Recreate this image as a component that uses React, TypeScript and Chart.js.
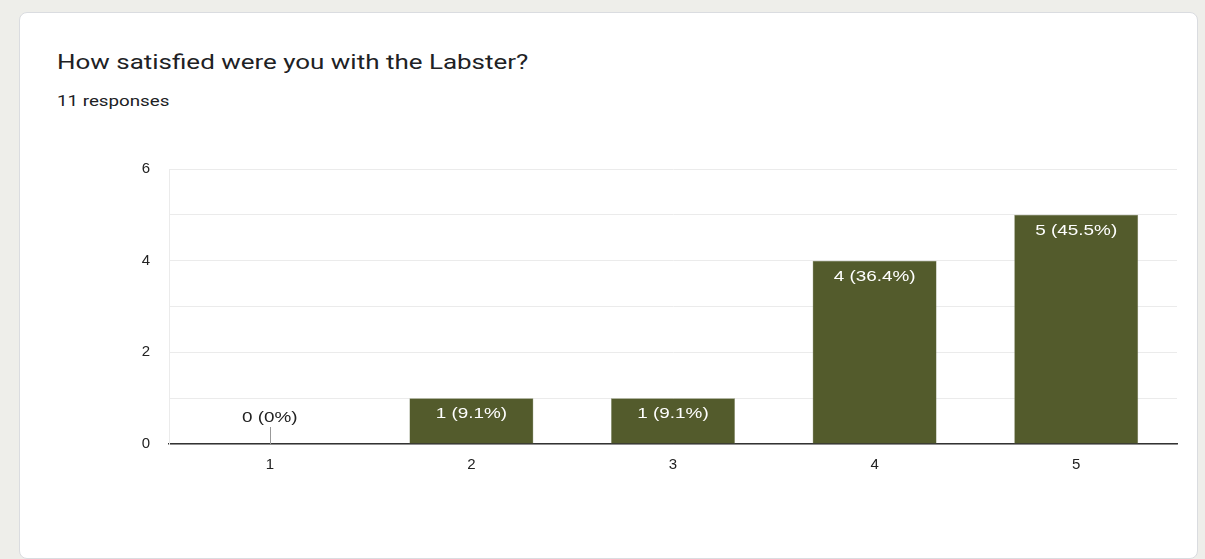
import React, { useEffect, useRef } from "react";
import { Chart, registerables } from "chart.js";

Chart.register(...registerables);

const TITLE = "How satisfied were you with the Labster?";
const SUBTITLE = "11 responses";
const categories = ["1", "2", "3", "4", "5"];
const counts = [0, 1, 1, 4, 5];
const totalResponses = 11;
const yTickLabels = [0, 2, 4, 6];

const BAR_COLOR = "#535b2c";
const AXIS_FONT = "'Liberation Sans', Arial, sans-serif";
const STRETCH = 1.26;

function pctLabel(v: number) {
  const p = (v / totalResponses) * 100;
  const s = p.toFixed(1).replace(/\.0$/, "");
  return `${v} (${s}%)`;
}

function stretchedText(ctx: CanvasRenderingContext2D, text: string, x: number, y: number) {
  ctx.save();
  ctx.translate(x, y);
  ctx.scale(STRETCH, 1);
  ctx.fillText(text, 0, 0);
  ctx.restore();
}

const valueLabelPlugin = {
  id: "valueLabels",
  afterDatasetsDraw(chart: any) {
    const ctx = chart.ctx;
    const meta = chart.getDatasetMeta(0);
    const yScale = chart.scales.y;
    ctx.save();
    ctx.font = `15px ${AXIS_FONT}`;
    ctx.textAlign = "center";
    ctx.textBaseline = "middle";
    meta.data.forEach((bar: any, i: number) => {
      const v = counts[i];
      const text = pctLabel(v);
      if (v > 0) {
        ctx.fillStyle = "#ffffff";
        stretchedText(ctx, text, bar.x, bar.y + 16);
      } else {
        const base = yScale.getPixelForValue(0);
        ctx.strokeStyle = "#999999";
        ctx.lineWidth = 1;
        ctx.beginPath();
        ctx.moveTo(Math.round(bar.x) + 0.5, base);
        ctx.lineTo(Math.round(bar.x) + 0.5, base - 17);
        ctx.stroke();
        ctx.fillStyle = "#222222";
        stretchedText(ctx, text, bar.x, base - 26);
      }
    });
    ctx.restore();
  },
};

export default function App() {
  const canvasRef = useRef<HTMLCanvasElement | null>(null);

  useEffect(() => {
    if (!canvasRef.current) return;
    const chart = new Chart(canvasRef.current, {
      type: "bar",
      data: {
        labels: categories,
        datasets: [
          {
            data: counts,
            backgroundColor: BAR_COLOR,
            borderColor: "#8a9070",
            borderWidth: 0.5,
            categoryPercentage: 1,
            barPercentage: 0.615,
          },
        ],
      },
      options: {
        animation: false,
        responsive: false,
        maintainAspectRatio: false,
        events: [],
        layout: { padding: { left: 0, right: 28, top: 169, bottom: 85 } },
        plugins: {
          legend: { display: false },
          tooltip: { enabled: false },
        },
        scales: {
          x: {
            grid: { display: false, drawTicks: false },
            border: { color: "#333333", width: 1.5 },
            ticks: {
              color: "#222222",
              font: { family: AXIS_FONT, size: 15 },
              padding: 12,
            },
            afterFit: (s: any) => {
              s.height = 30;
            },
          },
          y: {
            min: 0,
            max: 6,
            grid: { color: "#ebebeb", drawTicks: false, lineWidth: 1 },
            border: { color: "#ebebeb", width: 1 },
            ticks: {
              stepSize: 1,
              color: "#222222",
              font: { family: AXIS_FONT, size: 15 },
              padding: 19,
              callback: (v: any) => (yTickLabels.includes(Number(v)) ? String(v) : ""),
            },
            afterFit: (s: any) => {
              s.width = 169;
            },
          },
        },
      },
      plugins: [valueLabelPlugin],
    });
    return () => chart.destroy();
  }, []);

  return (
    <div
      style={{
        position: "fixed",
        left: 0,
        top: 0,
        width: 1205,
        height: 559,
        background: "#eeeeea",
        overflow: "hidden",
      }}
    >
      <div
        style={{
          position: "absolute",
          left: 19,
          top: 12,
          width: 1177,
          height: 545,
          background: "#ffffff",
          border: "1px solid #dadce0",
          borderRadius: 8,
        }}
      />
      <div
        style={{
          position: "absolute",
          left: 57,
          top: 50,
          fontFamily: "Roboto, sans-serif",
          fontSize: 21,
          color: "#202124",
          whiteSpace: "nowrap",
          transform: "scaleX(1.236)",
          transformOrigin: "left center",
        }}
      >
        {TITLE}
      </div>
      <div
        style={{
          position: "absolute",
          left: 57,
          top: 92,
          fontFamily: "Roboto, sans-serif",
          fontSize: 15,
          color: "#202124",
          whiteSpace: "nowrap",
          transform: "scaleX(1.25)",
          transformOrigin: "left center",
        }}
      >
        {SUBTITLE}
      </div>
      <canvas
        ref={canvasRef}
        width={1205}
        height={559}
        style={{ position: "absolute", left: 0, top: 0, width: 1205, height: 559 }}
      />
    </div>
  );
}
